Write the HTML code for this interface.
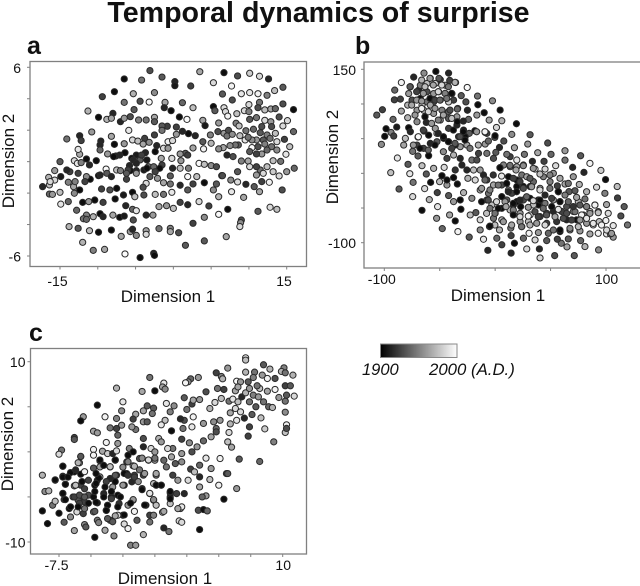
<!DOCTYPE html>
<html>
<head>
<meta charset="utf-8">
<title>Temporal dynamics of surprise</title>
<style>
html,body{margin:0;padding:0;background:#fff;width:640px;height:586px;overflow:hidden}
svg{display:block;filter:blur(0.35px)}
text{font-family:"Liberation Sans",Arial,sans-serif;fill:#111}
</style>
</head>
<body>
<svg id="chart" xmlns="http://www.w3.org/2000/svg" width="640" height="586" viewBox="0 0 640 586">
<defs>
<linearGradient id="year-gradient"><stop offset="0" stop-color="#000"/><stop offset="1" stop-color="#fff"/></linearGradient>
</defs>
<text x="318.5" y="22" text-anchor="middle" font-size="28.6" font-weight="bold">Temporal dynamics of surprise</text>
<text x="27" y="54" font-size="25" font-weight="bold">a</text>
<text x="355" y="54" font-size="25" font-weight="bold">b</text>
<text x="29" y="341" font-size="25" font-weight="bold">c</text>
<rect x="380.5" y="344" width="76.5" height="13.5" fill="url(#year-gradient)" stroke="#888" stroke-width="1"/>
<text x="362" y="375" font-size="16.5" font-style="italic">1900</text>
<text x="429" y="375" font-size="16.8" font-style="italic">2000 (A.D.)</text>
</svg>
<script>
const ticksAX=[-15,-10,-5,0,5,10,15];
const ticksAY=[6,4,2,0,-2,-4,-6];
const ticksBX=[-100,-50,0,50,100];
const ticksBY=[150,100,50,0,-50,-100];
const ticksCX=[-7.5,-5,-2.5,0,2.5,5,7.5,10];
const ticksCY=[10,5,0,-5,-10];
/* each point: dimension 1, dimension 2, year */
const pointsA=[[-3.1,5.79,1930],[-6.5,5.26,1905],[-4.2,5.19,1945],[-1.5,5.38,1935],[.2,5.09,1915],[.2,4.83,1910],[2.3,4.81,1925],[3.5,5.72,1965],[5.3,5.02,1985],[6.7,5.66,1905],[8.5,5.45,1930],[10.1,5.62,1980],[11.4,5.43,1985],[12.6,5.26,1915],[14.5,4.73,1935],[13.4,4.52,1975],[7.7,4.81,1995],[6.5,4.3,1935],[9,4.32,1990],[10.1,4.39,1990],[11.2,4.32,1995],[12.4,4.22,1950],[-7.8,4.45,1905],[-5.3,4.32,1970],[-2.5,4.39,1955],[-9.4,4.13,1925],[-6.5,3.77,1945],[-4.4,3.84,1930],[-3.2,3.79,1998],[-1.1,3.77,1965],[1.2,3.75,1940],[2.6,3.43,1975],[5.3,3.5,1905],[6.7,3.43,1985],[7.8,3.92,1930],[10,3.63,1985],[11.4,3.77,1945],[9.4,3.24,1985],[14.5,3.67,1930],[15.9,3.31,1905],[-11.3,3.22,1970],[-8,3.07,1915],[-1.2,3.43,1915],[-.3,3.24,1905],[-5.2,3.31,1935],[-9.9,2.82,1905],[-8.8,2.69,1970],[-8.2,2.76,1965],[-7,2.54,1915],[-6.5,2.76,1960],[-5.7,2.86,1930],[-4.6,2.65,1950],[-3.6,2.65,1945],[-2.5,2.82,1965],[-2.5,2.54,1935],[.8,2.84,1905],[1.8,2.69,1998],[3.9,2.63,1965],[5.5,3.24,1935],[6.9,3.18,1985],[7.2,2.9,1995],[8.4,3.05,1975],[10,3.18,1950],[11.2,3.43,1930],[12.1,3.29,1975],[12.9,3.35,1965],[13.5,3.37,1940],[10.1,2.69,1935],[11,2.8,1945],[12.1,2.63,1985],[14,2.84,1930],[15.1,2.61,1985],[12.9,2.54,1960],[6,2.46,1960],[8.3,2.44,1950],[8.7,2.27,1975],[4.2,2.29,1910],[-.8,2.25,1925],[-1.5,2.27,1935],[.4,2.2,1925],[-1.5,1.99,1945],[-5.9,1.99,1990],[-10.8,1.89,1960],[-12.4,1.65,1915],[-14.1,1.44,1945],[-12.2,1.34,1925],[-9.6,1.31,1915],[-9.7,1.06,1915],[-8.2,1.61,1965],[-7.8,1.1,1905],[-6.5,1.14,1960],[-5.4,1.38,1985],[-4.7,1.31,1975],[-3.8,1.48,1925],[-2.5,1.7,1925],[-4,1.12,1965],[-3.2,1.23,1955],[1.2,1.93,1915],[2,1.78,1905],[2.9,1.65,1915],[.4,1.74,1960],[-.7,1.27,1995],[-.1,1.34,1985],[4.9,1.7,1950],[5.9,1.91,1930],[6.7,1.8,1960],[7.3,1.99,1930],[7.1,1.63,1945],[7.8,1.74,1955],[8.8,1.65,1975],[9.6,1.97,1945],[10.6,2.06,1940],[11.7,2.23,1930],[13,2.23,1930],[14.5,2.27,1985],[15.9,1.91,1940],[11.5,1.84,1935],[12.4,1.7,1950],[13.5,1.8,1975],[12.8,1.48,1945],[11.9,1.38,1935],[13.7,1.27,1985],[14.7,1.42,1925],[11,1.38,1960],[10.4,1.38,1955],[9.5,1.38,1990],[9.9,1.55,1945],[8.6,1.06,1935],[8.2,1.06,1945],[7.5,1.02,1955],[6.6,.89,1965],[6,.81,1955],[10.4,.89,1998],[11.2,.95,1930],[12.1,1.12,1950],[13,.95,1945],[12.4,.74,1940],[13.7,.74,1955],[15.4,.95,1975],[14.9,.47,1990],[11.7,.49,1960],[10.1,.64,1935],[11,.49,1925],[7.1,.42,1915],[7.9,.32,1930],[9,.04,1950],[9.9,.04,1965],[13.2,.06,1975],[14.2,.02,1945],[5,1.17,1970],[2.6,.87,1965],[1.6,.53,1935],[.9,.49,1960],[1.9,.42,1925],[4,.81,1995],[3.9,1.27,1935],[-1.3,.85,1985],[-.7,.85,1960],[-2.2,1.02,1915],[-2.4,.64,1905],[-3.7,.57,1915],[-4.9,.42,1910],[-5.5,.21,1905],[-6.4,.57,1905],[-7.1,.42,1915],[-7.6,.36,1915],[-8.7,.49,1960],[-9.7,.74,1940],[-11.5,.17,1905],[-10.2,.06,1905],[-11.1,-.21,1915],[-12.4,.47,1965],[-12.6,.78,1990],[-13.1,.06,1985],[-12.7,-.11,1990],[-15,0,1935],[-12.2,-.06,1950],[-8.9,-.47,1998],[-7.5,-.53,1975],[-7,-.57,1950],[-5.8,-.25,1915],[-5.7,-.57,1905],[-4.9,-.57,1915],[-5.3,.11,1915],[-4.4,.11,1935],[-3.3,-.32,1945],[-3.5,.11,1910],[-2.6,-.32,1940],[-1.5,-.21,1925],[-1.6,.21,1965],[-.2,.21,1985],[-1.8,-.42,1905],[-2.4,-.64,1925],[-3.9,-.53,1910],[-.1,-.42,1915],[1,.06,1960],[.9,-.42,1975],[2,-.42,1950],[3.4,-.11,1998],[4.1,-.17,1975],[5,-.25,1955],[5.7,-.32,1930],[6.4,-.89,1945],[8.5,-.64,1935],[1.9,-.95,1998],[3.1,-.95,1975],[6.5,-.89,1930],[7.6,-1.17,1955],[8.5,-1.29,1985],[9.6,-1.44,1915],[10.7,-1.59,1935],[11.7,-1.27,1925],[12.7,-1.31,1995],[11.4,-1.91,1965],[14.4,-1.8,1930],[7.7,-1.91,1990],[9.3,-2.27,1965],[15,-.64,1960],[16,-.42,1940],[13.2,-.64,1980],[12.4,-.32,1975],[11.5,-.53,1945],[11,-.32,1925],[10.1,-.32,1985],[11,-.85,1960],[11.9,-.74,1985],[14,-.91,1985],[4.1,-1.34,1905],[2.6,-1.42,1925],[5.7,-1.42,1935],[5.3,-1.8,1955],[6,-2.23,1970],[.9,-1.5,1915],[-.4,-.91,1935],[-.4,-1.42,1945],[-1.3,-1.34,1965],[-2.1,-1.06,1960],[-3.6,-1.38,1985],[-4,-1.63,1930],[-3.9,-2.12,1930],[-2.4,-2.08,1975],[-1.3,-2.08,1945],[-.2,-1.95,1990],[1.9,-1.8,1935],[-6.2,-1.12,1925],[-7.5,-1.7,1905],[-8.4,-1.8,1930],[-9.5,-1.74,1925],[-11,-1.12,1905],[-9.9,-.89,1905],[-11.5,-.95,1955],[-12.6,-.74,1925],[-13.7,-.64,1925],[-14.1,-.53,1915],[-14.9,-.95,1910],[-15.7,-.57,1960],[-16.5,-1,1970],[-17.3,-1.59,1915],[-16.4,-1.48,1975],[-15.7,-1.17,1985],[-13.9,-1.31,1950],[-12.4,-1.8,1905],[-13.2,-1.59,1965],[-15,-1.95,1975],[-16.4,-2.06,1940],[-16,-2.08,1960],[-13.1,-2.01,1955],[-14.9,-2.7,1990],[-13.9,-2.54,1940],[-12,-2.59,1905],[-11.2,-2.54,1960],[-10.4,-2.44,1905],[-9.3,-2.59,1925],[-7.7,-2.37,1905],[-6.6,-2.12,1910],[-5.4,-1.95,1905],[-5.1,-2.23,1975],[-6.3,-2.8,1915],[-5.4,-3.03,1940],[-4.9,-3.12,1990],[-3.6,-3.4,1915],[-2.7,-3.4,1960],[-1.9,-2.86,1965],[-.9,-2.8,1960],[0,-2.97,1975],[.9,-2.59,1925],[1.9,-2.74,1915],[3.4,-2.54,1985],[4.7,-2.82,1925],[7.2,-3.03,1905],[6,-3.35,1998],[4.1,-3.54,1955],[2.6,-3.92,1925],[9,-3.71,1930],[8.9,-3.88,1955],[8.8,-4.13,1985],[11.2,-3.16,1935],[12.8,-2.9,1985],[13.7,-3.03,1975],[-12.8,-3.09,1940],[-11.5,-3.4,1950],[-11.9,-3.63,1945],[-11.5,-3.67,1940],[-10.6,-3.5,1970],[-9.7,-3.31,1905],[-9.3,-3.5,1915],[-8,-3.4,1965],[-7.1,-3.54,1905],[-6.5,-3.46,1910],[-5.3,-3.71,1930],[-13.8,-4.13,1970],[-12.6,-4.24,1935],[-11.1,-4.39,1975],[-9.9,-4.49,1905],[-8.2,-4.35,1905],[-6.9,-4.75,1965],[-5.7,-4.45,1960],[-5.4,-4.3,1915],[-4.9,-4.69,1955],[-3.6,-4.39,1965],[-3.6,-4.62,1985],[-1.9,-4.26,1945],[-.4,-4.24,1950],[-.4,-4.45,1965],[.7,-4.52,1930],[1.6,-5.32,1935],[4.1,-5.04,1935],[7,-4.77,1965],[-12,-5.13,1970],[-10.6,-5.64,1950],[-9.1,-5.58,1965],[-6.4,-5.87,1998],[-4.4,-6.1,1905],[-2.6,-5.83,1915],[-2.5,-5.96,1905],[-7.9,.32,1905],[-4.2,.42,1925],[-4.9,-.11,1915],[-6,-.53,1925],[-3.5,-.42,1905],[-16.3,-1.27,1985],[-13,-1.27,1950],[-11.7,-1.27,1925],[-9.7,-.85,1915],[-8.8,-.74,1935],[-8.2,-.95,1915],[-6.2,-.74,1935],[-4.9,-.74,1960],[-3.1,-.95,1935]];
const pointsB=[[-53.5,146.9,1905],[-64.2,144.5,1955],[-73.5,138.7,1915],[-42,144.5,1915],[-84.6,131,1995],[-90.6,120,1940],[-90.9,106,1925],[-85.5,107,1925],[-101.7,91.7,1925],[-106.8,84,1935],[-84.6,89.8,1965],[-92.1,77.8,1940],[-98.4,64.3,1905],[-88.8,66.7,1910],[-99.6,53.3,1905],[-93.9,59,1950],[-91.5,53.8,1925],[-102.6,41.8,1955],[-81,50.4,1975],[-82.5,40.8,1965],[-88.2,22.1,1990],[-94.2,1,1975],[-78.6,13,1935],[-77,-.5,1990],[-86.7,-22.6,1935],[-74,-13,1945],[-74.4,-33.6,1985],[-66,-53.3,1905],[-52.8,-64.8,1960],[-47.7,-79.7,1940],[-36,-68.6,1905],[-33.6,-84,1995],[-51.9,-48,1990],[-59.4,-37.9,1970],[-52.2,-27.8,1925],[-63.6,-22,1985],[-58.2,-13,1905],[-62.1,-1,1935],[-66,11,1975],[-69.6,25,1935],[-74.4,31.7,1945],[-70.5,40.8,1925],[-69.6,52.3,1998],[-78,65.8,1905],[-76.5,60,1915],[-78.9,80.2,1970],[-70.5,74.4,1955],[-63.3,81.6,1905],[-62.1,73.4,1915],[-64.2,61,1905],[-60,55,1905],[-58.5,43.2,1915],[-64.5,36,1925],[-60,25.4,1905],[-55.5,7.2,1970],[-48,-3.4,1905],[-50.1,-12,1975],[-43.5,-16.8,1960],[-43.5,-9.6,1905],[-37.5,-6.2,1905],[-34.1,-15.4,1905],[-42,-32,1935],[-37.5,-40.8,1960],[-31.5,-38.4,1905],[-30.9,-51.8,1905],[-41.1,-60,1965],[-28.5,-27.8,1970],[-22.5,-60,1975],[-17.4,-56.6,1935],[-13.5,-67,1985],[-13.5,-81.6,1955],[-23.4,-92,1935],[-10.5,-95,1990],[-5.1,-76.8,1925],[-6.6,-111,1915],[6,-103,1925],[14.4,-115,1915],[17.4,-100.8,1905],[28.5,-109,1985],[39.9,-109,1915],[40.5,-122,1985],[53.7,-118.6,1930],[71.4,-118.6,1935],[64.8,-106,1965],[81,-105.6,1970],[93.3,-110.4,1955],[59.7,-100.8,1945],[66,-94.6,1935],[77.1,-97,1940],[46.5,-97,1935],[56.1,-95,1925],[36,-96,1985],[25.5,-93.6,1940],[14.4,-89.8,1925],[1.5,-93.6,1940],[3.9,-81.6,1970],[14.1,-79,1945],[24,-76.8,1955],[30.6,-86.4,1995],[39,-85.4,1960],[48,-86.4,1940],[58.5,-84,1905],[67.5,-81.6,1955],[76.5,-83,1960],[85.5,-87.4,1965],[93,-86.4,1995],[100.5,-87.4,1990],[106.5,-92,1960],[104,-87.4,1975],[106.5,-75.4,1990],[119.4,-74.4,1945],[113.4,-61.4,1930],[116.4,-48,1935],[110.4,-35.5,1925],[110.1,-19,1975],[99.6,-9,1905],[95.4,4.3,1980],[91.5,-20,1985],[99,-28.8,1950],[100.5,-45,1965],[102,-57.6,1985],[99.9,-68,1995],[93.9,-69.6,1975],[88.5,-74.4,1990],[82.5,-72,1960],[93,-55.2,1965],[90,-45.6,1990],[81,-37,1945],[72,-25,1935],[75.9,-16,1970],[80.1,1.4,1915],[85.5,14.4,1995],[77.1,25.4,1935],[63,19,1945],[63,32.6,1960],[69.9,8.6,1915],[70.5,-4.8,1960],[63,-15.4,1965],[66.6,-26.4,1935],[57,-26.4,1905],[54.6,11,1985],[50.4,27.4,1940],[47.4,43.7,1930],[38.4,29.8,1965],[44.1,17.3,1925],[45,6.2,1985],[52.5,0,1960],[56.1,-18,1925],[49.5,-12,1950],[36,6.2,1990],[33.6,17.3,1915],[26.4,27.4,1945],[29.4,42.2,1960],[31.5,55.7,1935],[15,56.2,1955],[17.4,37,1965],[19.5,19.2,1990],[25.5,12,1975],[13.5,24,1925],[10.5,27.4,1945],[3.9,37.4,1915],[7.8,46.6,1930],[-.3,51.8,1935],[.6,30.2,1935],[-7.5,57.6,1930],[-9,59,1985],[1.2,66.2,1985],[6,75.8,1970],[-5.4,76.8,1965],[19.2,71.5,1905],[4.5,91.2,1905],[-9.9,87.4,1905],[-2.4,104.6,1955],[-15.6,98.9,1905],[-15.9,111.4,1945],[-25.2,123.8,1998],[-25,91,1915],[-26.4,103,1930],[-30.6,112,1935],[-35.7,131,1985],[-41,134,1925],[-16.5,84,1960],[-24,77.8,1940],[-18.3,61.4,1905],[-23.4,57.6,1935],[-9,42.2,1960],[-15,28.8,1925],[-7.5,28.8,1945],[-1.5,21.6,1930],[4.5,8.2,1905],[7.5,12,1950],[13.5,9.6,1960],[12,-4.8,1905],[19.5,9.6,1965],[19.5,-9.6,1905],[24,-2.4,1945],[28.5,-4.8,1965],[34.5,-12,1940],[43.5,-4.8,1950],[40.5,-21.6,1975],[31.5,-19,1910],[25.5,-19,1905],[19.5,-19,1905],[12,-24,1960],[6,-16.8,1930],[-1.5,-16.8,1965],[-7.5,-9.6,1925],[-10.5,-2.4,1915],[-13.5,4.8,1960],[-19.5,4.8,1975],[-18,-9.6,1985],[-24.6,-7.2,1970],[-25.5,4.8,1915],[-30,12,1915],[-36,4.8,1920],[-31.5,21.6,1915],[-21,19.2,1945],[-16.5,19.2,1930],[-25.5,40.8,1965],[-31.5,38.4,1960],[-37.5,26.4,1970],[-43.5,21.6,1925],[-46,8.6,1985],[-36,40.8,1905],[-42,45.6,1905],[-46.5,50.4,1905],[-52.5,45.6,1935],[-52.5,57.6,1985],[-54,64.8,1960],[-27,52.8,1905],[-28.5,62.4,1905],[-34.5,69.6,1915],[-42,64.8,1925],[-33,52.8,1915],[-49.5,76.8,1955],[-42,79,1935],[-34.5,81.6,1960],[-55.5,86.4,1960],[-64.5,91,1975],[-70.5,91,1960],[-75,105.6,1930],[-78.9,98.4,1970],[-78,115,1960],[-76.5,124.8,1940],[-69,120,1915],[-67.5,127,1950],[-61.5,129.6,1975],[-58.5,137,1960],[-54,129.6,1985],[-49.5,135,1925],[-45,127,1960],[-39,115,1905],[-61.5,117.6,1930],[-55.5,115,1960],[-51,117.6,1970],[-45,115,1970],[-67.5,108,1905],[-61.5,103,1945],[-55.5,103,1935],[-49.5,105.6,1945],[-37.5,105.6,1925],[-42,103,1980],[-58.5,98.4,1965],[-48,91,1950],[-42,89,1940],[-66,98.4,1985],[-33.8,93.6,1970],[6,-33.6,1905],[15,-28.8,1925],[10.5,-38.4,1935],[19.5,-40.8,1905],[16.5,-45.6,1905],[25.5,-38.4,1930],[31.5,-36,1905],[39,-38.4,1905],[39,-45.6,1905],[34.5,-45.6,1975],[45,-43.2,1945],[52.5,-38.4,1965],[58.5,-40.8,1940],[64.5,-48,1930],[60,-55,1925],[52.5,-55,1915],[46.5,-57.6,1925],[40.5,-62.4,1925],[31.5,-60,1990],[22.5,-57.6,1960],[13.5,-52.8,1975],[6,-50.4,1905],[0,-57.6,1925],[-3,-45.6,1975],[-7.5,-38.4,1935],[-6,-28.8,1945],[-13.5,-24,1965],[-21,-36,1955],[46.5,-72,1925],[55.5,-69.6,1920],[64.5,-67,1915],[73.5,-67,1905],[70.5,-55,1960],[79.5,-60,1955],[85.5,-55,1985],[82.5,-48,1975],[75,-40.8,1970],[37.5,-72,1960],[30,-69.6,1975],[22.5,-69.6,1960],[6,-67,1975],[-1.5,-64.8,1945],
[4.3,8.1,1905],[13.4,11.5,1945],[18.8,4.8,1965],[25.4,11,1955],[34.4,7.2,1960],[40.4,-1,1975],[49.4,-2.4,1950],[58.5,-7.2,1965],[66,-14.5,1945],[73.5,-34.6,1965],[82.5,-26.5,1970],[31.4,-7.2,1935],[22.4,-12,1925],[16.4,-7.2,1925],[10.4,-14.5,1905],[5.8,-3.9,1990],[-1.7,-2.4,1920],[-9.2,-9.6,1940],[-12.2,-21.7,1960],[-4.7,-24,1950],[2.8,-16.9,1945],[11.9,-26.5,1915],[19.4,-26.5,1905],[25.4,-21.7,1930],[32.9,-19.3,1960],[40.4,-24,1985],[49.4,-21.7,1945],[57,-26.5,1905],[63,-31.3,1950],[66,-40.9,1940],[58.5,-40.9,1905],[51,-36,1925],[45,-31.3,1915],[40.4,-38.5,1905],[34.4,-39.4,1985],[28.4,-33.7,1940],[22.4,-38.5,1915],[16.4,-43.3,1905],[8.9,-40.9,1960],[1.3,-40.9,1985],[-6.2,-38.5,1930],[-12.2,-40.9,1905],[-4.7,-50.5,1945],[2.8,-50.5,1905],[9.8,-48,1965],[16.4,-52.9,1950],[23,-48,1905],[29.9,-49,1960],[35.9,-55.3,1930],[43.4,-50.5,1940],[51,-48,1905],[57,-51.9,1990],[64.5,-57.7,1930],[72,-55.3,1945],[78,-60,1995],[85.5,-57.7,1960],[93,-56.7,1975],[90,-45.7,1995],[82.5,-48,1950],[76.5,-45.7,1935],[70.5,-48,1920],[16.4,-60,1905],[22.4,-62.5,1985],[29.9,-61.6,1995],[38.9,-62.5,1925],[46.4,-60,1935],[54,-62.5,1965],[61.5,-64.9,1930],[69,-67.3,1925],[76.5,-67.3,1960],[82.5,-64.9,1990],[88.5,-72.1,1990],[96,-74.5,1995],[100.6,-81.7,1985],[105,-86.6,1960],[-7.7,-57.7,1975],[-.2,-57.7,1945],[7.4,-69.7,1960],[14.9,-74.5,1965],[23.9,-76.9,1945],[31.4,-74.5,1970],[45,-74.5,1985],[58.5,-81.7,1905],[52.5,-81.7,1945],[67.5,-79.3,1955],[75,-76.9,1975],[-.2,-74.5,1975],[-4.7,-76,1905],
[-66.3,134.5,1970],[-58.8,136.9,1960],[-50.7,136.9,1935],[-76.8,124.9,1935],[-70.8,117.7,1925],[-63.3,124.9,1975],[-55.8,127.3,1965],[-48.2,127.3,1985],[-42.2,124.9,1945],[-36.2,131.1,1970],[-64.8,115.3,1960],[-58.8,108,1905],[-51.3,117.7,1985],[-45.2,115.3,1950],[-39.2,115.3,1905],[-70.8,105.6,1960],[-66.3,104.2,1960],[-54.3,105.6,1925],[-49.8,105.6,1940],[-43.7,108,1945],[-75.3,98.4,1965],[-66.3,93.6,1995],[-60.3,88.8,1985],[-54.3,93.6,1960],[-46.7,84,1965],[-40.7,91.2,1930],[-34.1,92.7,1940],[-72.3,84,1960],[-63.3,81.6,1905],[-57.3,72,1960],[-51.3,76.8,1950],[-34.1,74.4,1905],[-28.7,75.4,1915],[-39.2,79.2,1975],[-64.8,62.4,1925],[-51.3,57.6,1915],[-46.7,52.8,1905],[-42.2,45.6,1905],[-37.7,62.4,1905],[-28.7,60,1905],[-36.2,43.2,1935],[-31.7,52.8,1930],[-27.2,48,1905],[-69.3,52.8,1998],[-54.3,40.8,1905],[-67.8,36,1905],[-73.8,40.8,1960],[-60.3,33.6,1940],[-46.7,31.2,1955],[-39.2,36,1925],[-22.7,36,1945],[-15.2,40.8,1970],[-6.1,46.6,1940],[-16.7,60,1960],[-9.2,60,1995],[-.1,54.2,1905]];
const pointsC=[[7.1,10.43,1998],[7.1,10.18,1975],[8.5,9.66,1935],[5.7,9.29,1960],[7.1,8.84,1970],[7.8,8.84,1945],[10.1,9.32,1950],[9,9.18,1970],[9.9,8.92,1970],[10.2,8.77,1945],[10.8,8.51,1970],[4.8,8.77,1925],[5.2,8.36,1950],[5.3,8.1,1970],[3.4,8.25,1960],[2.8,8.1,1940],[2.6,7.77,1955],[2.4,7.66,1995],[.7,7.62,1990],[.6,7.2,1965],[.8,6.96,1955],[-.4,8.25,1945],[0,6.77,1905],[-1,6.7,1965],[-3,7.07,1970],[-4.5,5.18,1905],[-2.5,5.55,1990],[-2.6,4.55,1955],[-.6,5.1,1935],[-.9,4.55,1965],[-.1,4.85,1935],[-.2,4.25,1945],[-1.5,4.18,1965],[-1.7,3.63,1925],[-.9,3.33,1960],[-.6,3.33,1935],[.8,3.5,1975],[.5,3,1990],[.9,5.37,1990],[1.5,5.1,1955],[1.2,4.44,1950],[2.3,6,1935],[2.9,5.3,1925],[3,5.74,1965],[3.5,5.8,1960],[2.5,4.7,1945],[4,6.66,1930],[4.9,7.03,1945],[5.4,6.92,1925],[5.2,5.92,1975],[4.7,5.48,1985],[4.3,4.81,1970],[5.8,5.62,1945],[6.1,5.85,1990],[6.3,6.77,1965],[6.4,7.84,1998],[6.8,6.1,1915],[7.1,6.55,1970],[7.4,7.03,1960],[8.2,7.03,1975],[8.8,6.73,1965],[9.4,6.92,1995],[9.7,6.03,1960],[10.2,5.62,1945],[10.9,6.18,1985],[10.3,6.29,1935],[10.2,7.33,1925],[10.6,7.33,1935],[9.4,8.14,1930],[8.8,8.14,1995],[8.4,8.51,1960],[7.7,8.25,1950],[7.3,7.77,1935],[6.7,7.77,1960],[8,7.33,1945],[6.5,7.2,1965],[7.7,6.29,1950],[8.1,6.1,1960],[8.5,5.55,1945],[7.4,5.55,1945],[7.9,5,1935],[8.9,5,1940],[9.2,4.92,1970],[6.5,5.55,1975],[6.3,4.81,1985],[6.7,4.44,1985],[5.9,4.33,1965],[7.6,4.14,1935],[7,3.74,1915],[6.4,3.5,1990],[5.9,3.1,1970],[8.3,3.77,1975],[7.4,2.77,1925],[8.6,2.55,1980],[10.2,4.4,1955],[10.3,3,1995],[10.2,2.15,1975],[10.3,2.6,1930],[7.3,1.74,1925],[9.3,1.11,1950],[5.8,2.15,1985],[5.7,1.11,1975],[6,.52,1965],[6.6,-.81,1935],[8.2,-1.07,1940],[5.1,-.74,1995],[4,-.7,1990],[4.8,2.59,1940],[4.8,2.22,1930],[4.4,1.67,1965],[5.1,3.5,1960],[4.6,3.33,1955],[3.8,3.15,1960],[3,3.88,1995],[2.9,2.77,1990],[2.3,3.5,1930],[2,3.66,1915],[2.2,2.59,1945],[1.3,2.33,1905],[2.1,1.4,1925],[2.7,1,1955],[3.8,1.22,1940],[3.3,.56,1960],[2.9,0,1930],[2.1,-.19,1960],[1.4,.37,1945],[1,.37,1985],[.3,1.48,1970],[.5,1.11,1960],[-.3,.37,1985],[-.9,.56,1915],[-.9,1.48,1930],[0,0,1960],[-1.5,2.48,1945],[-1.8,2.77,1960],[-2.6,2.96,1960],[-3,2.59,1925],[-3.5,2.66,1945],[-2.9,1.85,1940],[-2.9,.93,1960],[-3.8,1.04,1995],[-4.8,2.29,1965],[-4.5,2.11,1960],[-3.9,3.89,1995],[-3,3.7,1950],[-5.6,3.89,1960],[-5.8,3.44,1905],[-6.3,1.59,1925],[-6.3,1.37,1935],[-7.3,.19,1945],[-7.5,-.26,1985],[-5.8,-.52,1915],[-5.9,-1.22,1965],[-4.8,.26,1995],[-4.8,-.37,1995],[-4.3,-1,1905],[-4.1,.07,1965],[-3.7,-.19,1980],[-3.3,-.19,1915],[-3,.11,1985],[-3.1,-.93,1905],[-3.5,-1.67,1970],[-4.3,-1.67,1965],[-2,.37,1950],[-1.7,0,1905],[-2.1,-.37,1905],[-1.2,-.74,1930],[-2.2,-1.11,1925],[-1.7,-1.55,1975],[-.5,-.93,1990],[0,-.93,1960],[.7,-.93,1940],[1.3,-.56,1965],[1.6,-1.3,1935],[.9,-1.67,1945],[2.1,-1.11,1955],[2.8,-1.92,1925],[3.5,-1.48,1940],[4.4,-1.85,1960],[3.1,-2.22,1975],[3.5,-2.78,1915],[4.3,-3.07,1975],[5,-3.7,1995],[3.5,-3.89,1965],[5.6,-2.41,1925],[5.7,-2.41,1935],[6.4,-4.07,1960],[5.4,-5.25,1905],[4,-4.88,1960],[3.7,-5,1940],[2.3,-4.63,1915],[1.7,-4.63,1925],[1.2,-4.55,1905],[1.2,-5,1905],[2.6,-3.15,1985],[1.8,-3.15,1960],[1.4,-2.59,1925],[.5,-3.7,1905],[.1,-3.7,1905],[-.1,-3.52,1975],[-.4,-4.63,1990],[-1,-4.07,1905],[.1,-2.59,1945],[-.9,-2.59,1925],[-1.6,-2.59,1925],[-2.2,-2.41,1905],[-1.8,-3.33,1915],[-2.4,-3.7,1905],[-3,-2.59,1915],[-3.5,-2.96,1915],[-4.3,-2.78,1965],[-4.5,-3.15,1905],[-4.7,-3.7,1905],[-5.2,-3.15,1925],[-5.8,-2.48,1905],[-6.3,-2.22,1905],[-6.8,-2.78,1915],[-7.2,-2.7,1915],[-7.2,-1.59,1905],[-7.8,-3.15,1905],[-8.8,-2.59,1970],[-7,-3.59,1905],[-6.3,-3.77,1960],[-5.8,-3.7,1925],[-8.6,-4.4,1955],[-8.3,-4.33,1970],[-7.2,-4.63,1905],[-8,-5.92,1945],[-7.8,-5.48,1975],[-7.1,-5.29,1925],[-6.4,-5,1945],[-6,-5.37,1935],[-5.6,-5,1920],[-5.2,-4.81,1930],[-5.5,-5.55,1925],[-4.8,-5,1905],[-4.5,-5.66,1905],[-4,-4.63,1915],[-3.4,-5,1905],[-2.9,-4.81,1905],[-2.8,-5.74,1920],[-3.7,-5.92,1905],[-3.3,-3.89,1960],[-1.7,-5.37,1965],[-2.1,-5.92,1960],[-.7,-5.92,1905],[-.1,-5.37,1935],[.1,-5.92,1975],[1.2,-5.74,1975],[2,-6.29,1960],[2.1,-6.1,1990],[-1.6,-6.6,1995],[-2.5,-7.03,1905],[-2.9,-7.03,1985],[-3.5,-7.59,1940],[-3.8,-6.48,1915],[-4.8,-6.66,1960],[-5.6,-6.85,1925],[-6.7,-6.29,1905],[-6.1,-6.66,1985],[-8.8,-6.55,1905],[-7.5,-6.81,1905],[-6.6,-7.22,1955],[-7.1,-7.81,1935],[-8.4,-7.96,1905],[-6.3,-8.73,1965],[-5.5,-8.07,1955],[-5.4,-8.33,1935],[-4.5,-7.59,1945],[-4.4,-7.85,1950],[-3.9,-8.7,1965],[-4.7,-9.48,1905],[-3.2,-9.33,1955],[-2.4,-8,1985],[-2.1,-8.51,1995],[-1.4,-7.59,1935],[-.4,-7.78,1945],[-.4,-7.03,1925],[-.1,-7.03,1950],[.6,-6.7,1965],[1.9,-7.66,1985],[2.1,-7.81,1985],[.7,-8.44,1915],[1.1,-8.84,1945],[-.9,-9.18,1970],[-1.9,-10.36,1950],[-1.5,-10.36,1960],[3.5,-8.62,1905],[3.4,-6.48,1930],[3.8,-6.4,1905],[4.1,-6.55,1940],
[-7.2,-1.6,1905],[-5.8,-.5,1935],[-6,-1.2,1970],[-6.6,-2.3,1905],[-6.2,-2,1915],[-5.5,-2.2,1995],[-7.2,-2.8,1905],[-6.8,-2.8,1905],[-7,-3.6,1905],[-7.8,-3.1,1905],[-6.2,-3.7,1975],[-5.7,-3.3,1905],[-5.5,-4.1,1925],[-4.4,-2.9,1905],[-4.6,-3.5,1905],[-3.8,-3.3,1925],[-3.1,-2.6,1935],[-3.9,-3.9,1905],[-3.1,-3.3,1905],[-3.4,-4.4,1905],[-4.7,-4.4,1905],[-4,-5,1905],[-3.4,-5.2,1925],[-2.7,-5,1905],[-7.2,-4.6,1905],[-7,-5.3,1905],[-6.3,-5,1925],[-5.9,-4.8,1930],[-5.5,-5,1935],[-5.9,-5.7,1925],[-5.2,-5.7,1905],[-4.6,-5.6,1905],[-6.6,-6.1,1905],[-6,-6.1,1905],[-5.5,-6.3,1945],[-4.7,-6.6,1935],[-3.8,-6.5,1905],[-2.9,-6.1,1905],[-2.4,-7,1905],[-3.1,-7.1,1965],[-3.7,-7.4,1935],[-3.3,-7.75,1935],[-2.5,-3.7,1960],[-2.4,-2.4,1905],[-2.1,-2.6,1920],[-1.6,-2.8,1925],[-1.3,-3.3,1955],[-1,-4.2,1905],[-.4,-4.6,1990],[-.1,-5.3,1955],[-1.7,-5.3,1960],[-1.9,-5.7,1905],[-3.1,-.9,1905],[-4.3,-.9,1905],[-3.5,-1.65,1975],[-2.1,-1.1,1950],[-1,-.7,1955],[-.5,-.9,1985],[0,-.7,1945],[-2.5,-1.7,1955],[-1.6,-1.6,1970],[-1.2,-2,1945],[-.8,-2.4,1960],[.1,-2.4,1965],[.1,-3.7,1905],[.5,-3.7,1905],[1.2,-4.4,1905],[1.2,-5.2,1905],[1.8,-6.3,1965],[.7,-6.6,1965],[-.8,-5.9,1905],[-4.8,-1.8,1935],[-4,-1.5,1905],[-4.6,-2.4,1905]];

const svgNS='http://www.w3.org/2000/svg';
const chart=document.getElementById('chart');
function make(tag,attrs,text){
  const el=document.createElementNS(svgNS,tag);
  for(const k in attrs){el.setAttribute(k,attrs[k]);}
  if(text!==undefined){el.textContent=text;}
  return el;
}
function yearGray(year){
  const t=Math.max(0,Math.min(1,(year-1900)/100));
  const v=Math.round(t*255);
  return 'rgb('+v+','+v+','+v+')';
}
function scale(d0,d1,p0,p1){
  return function(v){return p0+(v-d0)/(d1-d0)*(p1-p0);};
}
function drawPanel(id,p,points,ticksX,ticksY){
  const sx=scale(ticksX[0],ticksX[ticksX.length-1],p.x0,p.x1);
  const sy=scale(ticksY[0],ticksY[ticksY.length-1],p.y0,p.y1);
  const g=make('g',{});
  
  
  const frame=make('rect',{x:p.left,y:p.top,width:p.right-p.left,height:p.bottom-p.top,fill:'#fff',stroke:'#808080','stroke-width':1.3});
  
  
  g.appendChild(frame);
  ticksX.forEach(function(t,i){
    const tick=make('line',{x1:sx(t),x2:sx(t),y1:p.bottom,y2:p.bottom+3,stroke:'#808080','stroke-width':1});
    
    
    g.appendChild(tick);
    if(i===0||i===ticksX.length-1){
      const label=make('text',{x:sx(t)+(i===0?p.xLabelStart:p.xLabelEnd),y:p.xLabelY,'text-anchor':'middle','font-size':14},String(t));
      
      
      g.appendChild(label);
    }
  });
  ticksY.forEach(function(t,i){
    const tick=make('line',{x1:p.left-3,x2:p.left,y1:sy(t),y2:sy(t),stroke:'#808080','stroke-width':1});
    
    
    g.appendChild(tick);
    if(i===0||i===ticksY.length-1){
      const label=make('text',{x:p.left-p.yLabelGap,y:sy(t)+5.5,'text-anchor':'end','font-size':14},String(t));
      
      
      g.appendChild(label);
    }
  });
  const xTitle=make('text',{x:p.xTitleX,y:p.xTitleY,'text-anchor':'middle','font-size':17},'Dimension 1');
  
  
  g.appendChild(xTitle);
  const yTitle=make('text',{transform:'translate('+p.yTitleX+','+p.yTitleY+') rotate(-90)','text-anchor':'middle','font-size':17},'Dimension 2');
  
  
  g.appendChild(yTitle);
  points.forEach(function(pt){
    const c=make('circle',{cx:sx(pt[0]).toFixed(2),cy:sy(pt[1]).toFixed(2),r:3.1,fill:yearGray(pt[2]),stroke:'#2a2a2a','stroke-width':1});
    
    
    g.appendChild(c);
  });
  chart.appendChild(g);
}
drawPanel('a',{left:30,right:306.5,top:61.5,bottom:266.5,x0:60,x1:286.7,y0:67.3,y1:256,xLabelY:286,xLabelStart:-2.5,xLabelEnd:-2.7,xTitleX:168,xTitleY:302,yLabelGap:9,yTitleX:14,yTitleY:161},pointsA,ticksAX,ticksAY);
drawPanel('b',{left:364,right:641,top:62,bottom:268,x0:384.3,x1:606,y0:69.3,y1:242.7,xLabelY:284,xLabelStart:-2.5,xLabelEnd:0.5,xTitleX:498,xTitleY:301,yLabelGap:8,yTitleX:338,yTitleY:157},pointsB,ticksBX,ticksBY);
drawPanel('c',{left:30.5,right:306.5,top:348.5,bottom:554,x0:59,x1:282.7,y0:361.7,y1:542,xLabelY:570,xLabelStart:-2.5,xLabelEnd:0.5,xTitleX:165,xTitleY:584,yLabelGap:5,yTitleX:13,yTitleY:444},pointsC,ticksCX,ticksCY);
</script>
</body>
</html>
